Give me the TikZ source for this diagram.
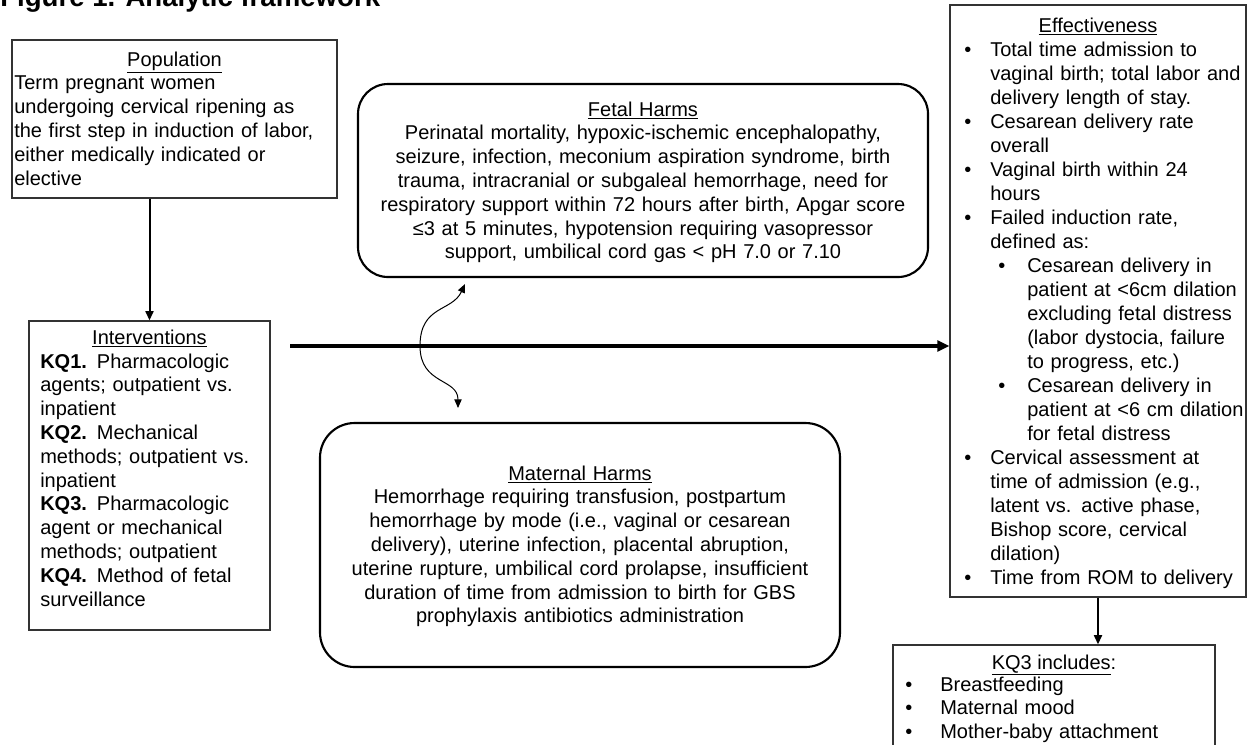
\documentclass[tikz,border=0pt]{standalone}
\usepackage{fontspec}
\setmainfont{Liberation Sans}
\usetikzlibrary{arrows.meta,fit}
\newcommand\myBi{\makebox[19.5pt][l]{•}}
\newcommand\myBc{\hspace*{19.5pt}}
\newcommand\mySi{\hspace*{25.5pt}\makebox[21.75pt][l]{•}}
\newcommand\mySc{\hspace*{47.25pt}}
\newcommand\myBk{\makebox[26.25pt][l]{•}}
\begin{document}
\begin{tikzpicture}[x=0.75pt,y=-0.75pt,
  every node/.style={font=\fontsize{15}{17.85}\selectfont, inner sep=0pt},
  sqbox/.style={draw=black!80, line width=0.9pt, inner sep=0pt},
  rndbox/.style={draw=black, line width=1.6pt, rounded corners=22.5pt, inner sep=0pt},
  txtl/.style={anchor=base west, align=left, text width=#1},
  txtc/.style={anchor=base, align=center, text width=#1},
  arr/.style={line width=1.5pt, -{Triangle[length=7pt,width=6pt]}},
  bigarr/.style={line width=2.6pt, -{Triangle[length=9pt,width=8pt]}},
  wavy/.style={line width=0.75pt, {Triangle[length=6.5pt,width=5.5pt]}-{Triangle[length=6.5pt,width=5.5pt]}},
]
\useasboundingbox (0,0) rectangle (1252,744);
\clip (0,0) rectangle (1252,744);

% title (cut at top)
\node[anchor=base west, font=\bfseries\fontsize{20.7}{24}\selectfont] (title) at (0,6) {Figure 1. Analytic framework};

% Population
\node[sqbox, fit={(12,40) (337,198)}] (pop) {};
\node[anchor=base] (popt) at (174.5,66) {\underline{Population}};
\node[txtl=245pt] (popb) at (14,89.8) {Term pregnant women\\
undergoing cervical ripening as\\
the first step in induction of labor,\\
either medically indicated or\\
elective};

% Interventions
\node[sqbox, fit={(29,321) (270,630)}] (intv) {};
\node[anchor=base] (intvt) at (149.5,344) {\underline{Interventions}};
\node[txtl=180pt] (intvb) at (40,368) {\textbf{KQ1.} Pharmacologic\\
agents; outpatient vs.\\
inpatient\\
\textbf{KQ2.} Mechanical\\
methods; outpatient vs.\\
inpatient\\
\textbf{KQ3.} Pharmacologic\\
agent or mechanical\\
methods; outpatient\\
\textbf{KQ4.} Method of fetal\\
surveillance};

% Fetal harms
\node[rndbox, fit={(358,84) (928,277)}] (fetal) {};
\node[txtc=420pt] (fetalt) at (643,116) {\underline{Fetal Harms}\\
Perinatal mortality, hypoxic-ischemic encephalopathy,\\
seizure, infection, meconium aspiration syndrome, birth\\
trauma, intracranial or subgaleal hemorrhage, need for\\
respiratory support within 72 hours after birth, Apgar score\\
≤3 at 5 minutes, hypotension requiring vasopressor\\
support, umbilical cord gas < pH 7.0 or 7.10};

% Maternal harms
\node[rndbox, rounded corners=26pt, fit={(320,423) (840,667)}] (mat) {};
\node[txtc=380pt] (matt) at (580,480) {\underline{Maternal Harms}\\
Hemorrhage requiring transfusion, postpartum\\
hemorrhage by mode (i.e., vaginal or cesarean\\
delivery), uterine infection, placental abruption,\\
uterine rupture, umbilical cord prolapse, insufficient\\
duration of time from admission to birth for GBS\\
prophylaxis antibiotics administration};

% Effectiveness
\node[sqbox, fit={(950,5) (1246,597)}] (eff) {};
\node[anchor=base] (efft) at (1098,32) {\underline{Effectiveness}};
\node[txtl=230pt, font=\fontsize{15}{18}\selectfont] (effb) at (964,56) {\myBi Total time admission to\\
\myBc vaginal birth; total labor and\\
\myBc delivery length of stay.\\
\myBi Cesarean delivery rate\\
\myBc overall\\
\myBi Vaginal birth within 24\\
\myBc hours\\
\myBi Failed induction rate,\\
\myBc defined as:\\
\mySi Cesarean delivery in\\
\mySc patient at <6cm dilation\\
\mySc excluding fetal distress\\
\mySc (labor dystocia, failure\\
\mySc to progress, etc.)\\
\mySi Cesarean delivery in\\
\mySc patient at <6 cm dilation\\
\mySc for fetal distress\\
\myBi Cervical assessment at\\
\myBc time of admission (e.g.,\\
\myBc latent vs. active phase,\\
\myBc Bishop score, cervical\\
\myBc dilation)\\
\myBi Time from ROM to delivery};

% KQ3 includes
\node[sqbox, fit={(893,645) (1215,760)}] (kq) {};
\node[anchor=base] (kqt) at (1054,669) {\underline{KQ3 includes}:};
\node[txtl=230pt] (kqb) at (905,691) {\myBk Breastfeeding\\
\myBk Maternal mood\\
\myBk Mother-baby attachment};

% connectors
\draw[arr] (pop.south -| intv.north) -- (intv.north);
\coordinate (mstart) at (290,346);
\draw[bigarr] (mstart) -- (mstart -| eff.west);
\coordinate (wtop) at (465,284);
\coordinate (wbot) at (458,408);
\draw[wavy] (wtop) .. controls (452,312) and (420,305) .. (420,346)
  .. controls (420,385) and (458,378) .. (wbot);
\draw[arr] (eff.south) -- (eff.south |- kq.north);
\end{tikzpicture}
\end{document}
